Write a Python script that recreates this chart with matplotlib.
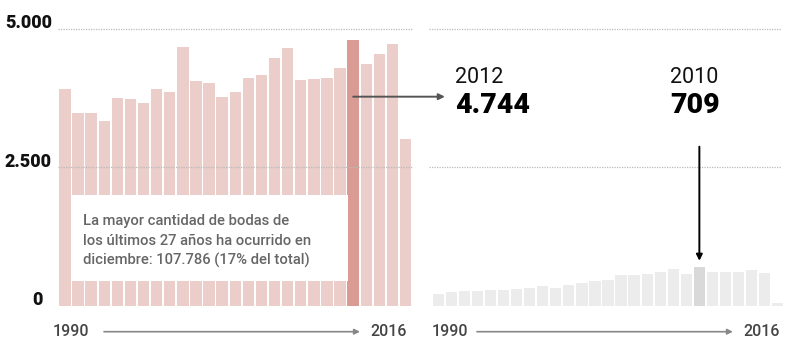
import matplotlib
matplotlib.use("Agg")
import matplotlib.pyplot as plt
from matplotlib.patches import Rectangle

plt.rcParams['font.family'] = ['Roboto', 'DejaVu Sans']

years = list(range(1990, 2017))
december = [3923, 3489, 3489, 3345, 3755, 3737, 3659, 3923, 3869, 4672,
            4057, 4021, 3773, 3869, 4111, 4166, 4484, 4654, 4075, 4093,
            4111, 4298, 4804, 4370, 4556, 4726, 3014]
other = [204, 240, 259, 259, 277, 277, 295, 313, 356, 313,
         374, 410, 447, 470, 548, 548, 566, 602, 656, 566,
         692, 602, 602, 602, 638, 584, 42]
yticks = [0, 2500, 5000]
ytick_labels = ["0", "2.500", "5.000"]
hl_left, hl_left_label = 2012, "4.744"
hl_right, hl_right_label = 2010, "709"
note_lines = ["La mayor cantidad de bodas de",
              "los últimos 27 años ha ocurrido en",
              "diciembre: 107.786 (17% del total)"]

W, H = 800, 355
fig = plt.figure(figsize=(W / 100, H / 100), dpi=100)
axL = fig.add_axes([58.4 / W, (H - 305.7) / H, 353.7 / W, 276.7 / H])
axR = fig.add_axes([431.8 / W, (H - 305.7) / H, 352.4 / W, 276.7 / H])

xs = list(range(len(years)))
colL = ['#d99b93' if y == hl_left else '#ebcdc9' for y in years]
colR = ['#d9d9d9' if y == hl_right else '#ececec' for y in years]
axL.bar(xs, december, width=0.863, color=colL, zorder=2)
axR.bar(xs, other, width=0.863, color=colR, zorder=2)

for ax in (axL, axR):
    ax.set_xlim(-0.5, len(years) - 0.5)
    ax.set_ylim(0, 5000)
    ax.axis('off')

# dotted gridlines
for g in yticks[1:]:
    axL.axhline(g, xmin=0.0, xmax=1.0, color='#bbbbbb', lw=0.9,
                linestyle=(0, (1, 1)), zorder=3, clip_on=False)
    axR.axhline(g, xmin=-0.008, xmax=0.99, color='#bbbbbb', lw=0.9,
                linestyle=(0, (1, 1)), zorder=3, clip_on=False)

# y tick labels
for v, lab in zip(yticks, ytick_labels):
    xpos = -1.675 if v == 0 else -0.99
    axL.text(xpos, v + 15, lab, ha='right', va='baseline', fontsize=13,
             fontweight='black', color='#111111', clip_on=False)

# note box
axL.add_patch(Rectangle((0.47, 452), 21.1, 1548, facecolor='white',
                        edgecolor='none', zorder=4))
for i, line in enumerate(note_lines):
    axL.text(1.355, 1458 - i * 361, line, ha='left', va='baseline',
             fontsize=10.6, fontweight='medium', color='#666666', zorder=5)

# 2012 annotation
iL = years.index(hl_left)
axL.annotate('', xy=(29.0, 3777), xytext=(iL, 3777),
             arrowprops=dict(arrowstyle='-|>', color='#555555', lw=1.4,
                             shrinkA=0, shrinkB=0, mutation_scale=9),
             annotation_clip=False, zorder=6)
axL.text(29.78, 4019, str(hl_left), ha='left', va='baseline', fontsize=15.5,
         color='#111111', clip_on=False)
axL.text(29.78, 3477, hl_left_label, ha='left', va='baseline', fontsize=20.5,
         fontweight='black', color='#000000', clip_on=False)

# 2010 annotation
iR = years.index(hl_right)
axR.annotate('', xy=(iR, other[iR] + 120), xytext=(iR, 2873),
             arrowprops=dict(arrowstyle='-|>', color='#000000', lw=1.4,
                             shrinkA=0, shrinkB=0, mutation_scale=9),
             annotation_clip=False, zorder=6)
axR.text(17.75, 4019, str(hl_right), ha='left', va='baseline', fontsize=15.5,
         color='#111111', clip_on=False)
axR.text(17.75, 3477, hl_right_label, ha='left', va='baseline', fontsize=20.5,
         fontweight='black', color='#000000', clip_on=False)

# bottom year axes
for ax, x0, a0, a1, x1 in ((axL, -0.91, 2.98, 22.52, 23.28),
                           (axR, -0.49, 2.96, 22.57, 23.34)):
    ax.text(x0, -548, str(years[0]), ha='left', va='baseline', fontsize=11.5,
            fontweight='medium', color='#444444', clip_on=False)
    ax.text(x1, -548, str(years[-1]), ha='left', va='baseline', fontsize=11.5,
            fontweight='medium', color='#444444', clip_on=False)
    ax.annotate('', xy=(a1, -470), xytext=(a0, -470),
                arrowprops=dict(arrowstyle='-|>', color='#888888', lw=1.2,
                                shrinkA=0, shrinkB=0, mutation_scale=8),
                annotation_clip=False)

fig.savefig('out.png', dpi=100, facecolor='white')
